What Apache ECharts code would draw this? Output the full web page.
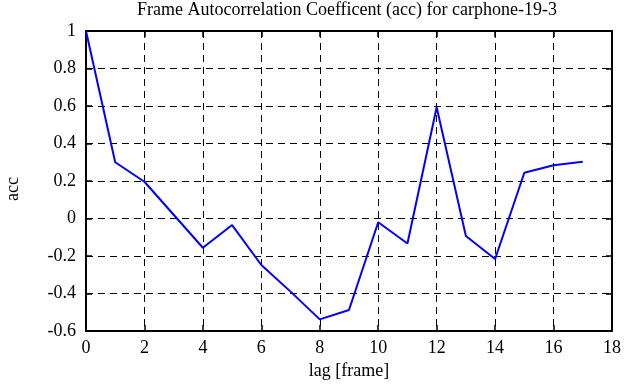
<!DOCTYPE html>
<html>
<head>
<meta charset="utf-8">
<script src="https://cdn.jsdelivr.net/npm/echarts@6/dist/echarts.min.js"></script>
<style>html,body{margin:0;padding:0;background:#fff;}#c{width:641px;height:387px;}</style>
</head>
<body>
<div id="c"></div>
<script>
const lags = [0,1,2,3,4,5,6,7,8,9,10,11,12,13,14,15,16,17];
const acc = [1.0,0.30,0.196,0.02,-0.156,-0.035,-0.248,-0.39,-0.538,-0.488,-0.02,-0.133,0.593,-0.093,-0.216,0.244,0.284,0.303];
const titleText = 'Frame Autocorrelation Coefficent (acc) for carphone-19-3';
const xName = 'lag [frame]';
const yName = 'acc';

const font = 'Liberation Serif';
const fs = 18;
const chart = echarts.init(document.getElementById('c'), null, {renderer:'canvas'});
const dash = {type:[7,5], color:'#000', width:1};
chart.setOption({
  animation:false,
  backgroundColor:'#fff',
  title:{text:titleText, left:347, textAlign:'center', top:0, padding:[1,0,0,0],
    textStyle:{fontFamily:font, fontSize:fs, fontWeight:'normal', color:'#000'}},
  grid:{left:86, right:29, top:31, bottom:56, containLabel:false, outerBoundsMode:'none'},
  xAxis:[{type:'value', min:0, max:18, interval:2, position:'bottom',
    name:xName, nameLocation:'middle', nameGap:30,
    nameTextStyle:{fontFamily:font, fontSize:fs, color:'#000'},
    axisLine:{show:true, onZero:false, lineStyle:{color:'#000', width:2}},
    axisTick:{show:true, inside:true, length:6, lineStyle:{color:'#000', width:1.5}},
    axisLabel:{fontFamily:font, fontSize:fs, color:'#000', margin:8},
    splitLine:{show:true, lineStyle:dash}},
   {type:'value', min:0, max:18, interval:2, position:'top',
    axisLine:{show:true, onZero:false, lineStyle:{color:'#000', width:2}},
    axisTick:{show:true, inside:true, length:6, lineStyle:{color:'#000', width:1.5}},
    axisLabel:{show:false}, splitLine:{show:false}}],
  yAxis:[{type:'value', min:-0.6, max:1, interval:0.2, position:'left',
    name:yName, nameLocation:'middle', nameGap:64, nameRotate:90,
    nameTextStyle:{fontFamily:font, fontSize:fs, color:'#000', padding:[0,0,0,-16]},
    axisLine:{show:true, onZero:false, lineStyle:{color:'#000', width:2}},
    axisTick:{show:true, inside:true, length:6, lineStyle:{color:'#000', width:1.5}},
    axisLabel:{fontFamily:font, fontSize:fs, color:'#000', margin:10, padding:[6,0,0,0],
      formatter:function(v){return String(Math.round(v*10)/10);}},
    splitLine:{show:true, lineStyle:dash}},
   {type:'value', min:-0.6, max:1, interval:0.2, position:'right',
    axisLine:{show:true, onZero:false, lineStyle:{color:'#000', width:2}},
    axisTick:{show:true, inside:true, length:6, lineStyle:{color:'#000', width:1.5}},
    axisLabel:{show:false}, splitLine:{show:false}}],
  series:[{type:'line', xAxisIndex:0, yAxisIndex:0,
    data:lags.map((x,i)=>[x,acc[i]]),
    showSymbol:false, symbol:'none',
    lineStyle:{color:'#0000ff', width:2}}]
});
</script>
</body>
</html>
